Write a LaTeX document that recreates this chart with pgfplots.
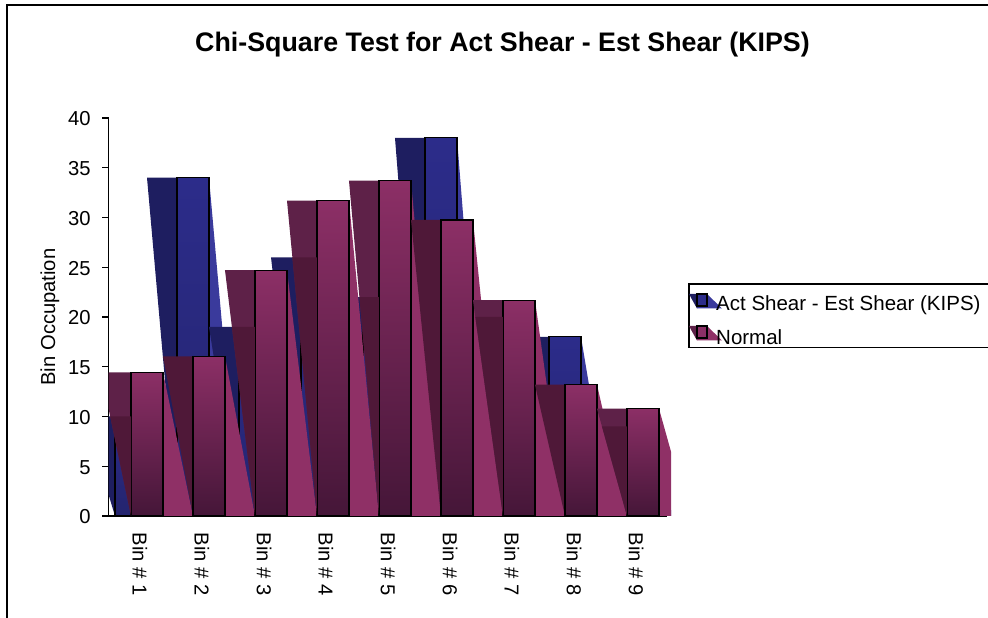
\documentclass[border=0pt]{standalone}
\usepackage{fontspec}
\setmainfont{Liberation Sans}
\usepackage{pgfplots}
\pgfplotsset{compat=1.18}

\definecolor{bluefront}{HTML}{2C2C8A}
\definecolor{bluefrontlo}{HTML}{24246E}
\definecolor{blueside}{HTML}{1E1E60}
\definecolor{bluewedge}{HTML}{3A3A9C}
\definecolor{pinktop}{HTML}{8C2F66}
\definecolor{pinkbot}{HTML}{451638}
\definecolor{pinkside}{HTML}{5E2148}
\definecolor{pinksidelo}{HTML}{4F1838}
\definecolor{pinkwedge}{HTML}{8F3066}

% #1 bin, #2 value, #3 x shift, #4 side colour, #5 front top, #6 front bottom, #7 wedge
\newcommand{\solidbar}[7]{%
  \pgfmathsetmacro{\xL}{#1+#3-0.621}
  \pgfmathsetmacro{\xM}{#1+#3-0.137}
  \pgfmathsetmacro{\xR}{#1+#3+0.379}
  \pgfmathsetmacro{\xW}{#1+#3+0.863}
  \addplot[fill=#7,draw=none,forget plot] coordinates {(\xR,#2) (\xW,0) (\xR,0)} --cycle;
  \addplot[fill=#4,draw=none,forget plot] coordinates {(\xL,#2) (\xM,#2) (\xM,0)} --cycle;
  \addplot[top color=#5,bottom color=#6,draw=black,line width=1.1pt,forget plot]
    coordinates {(\xM,0) (\xM,#2) (\xR,#2) (\xR,0)} --cycle;
  \addplot[black,line width=2pt,forget plot] coordinates {(\xR,#2) (\xR,0)};
}
% darker lower part of the side panel, below the level of the blue bar behind it
\newcommand{\sidelevel}[3]{%
  \pgfmathsetmacro{\xM}{#1-0.137}
  \pgfmathsetmacro{\xC}{#1-0.137-0.484*#3/#2}
  \addplot[fill=pinksidelo,draw=none,forget plot] coordinates {(\xC,#3) (\xM,#3) (\xM,0)} --cycle;
}

\begin{document}
\begin{tikzpicture}[x=1pt,y=1pt]
\useasboundingbox (0,0) rectangle (988,618);
\fontsize{20.2}{24}\selectfont
\begin{axis}[
    at={(108.5pt,102pt)},
    scale only axis,
    width=562.5pt, height=398pt,
    xmin=0.5, xmax=9.573,
    ymin=0, ymax=40,
    axis x line*=bottom, axis y line*=left,
    axis line style={line width=1.6pt,-},
    x axis line style={shorten >=4pt},
    xtick={1,...,9},
    xticklabels={Bin \# 1,Bin \# 2,Bin \# 3,Bin \# 4,Bin \# 5,Bin \# 6,Bin \# 7,Bin \# 8,Bin \# 9},
    x tick label style={rotate=-90,anchor=west,xshift=4pt,yshift=0.5pt,font=\fontsize{20.2}{24}\selectfont},
    major x tick style={draw=none},
    ytick={0,5,...,40},
    y tick label style={xshift=-5pt,yshift=-1pt,font=\fontsize{20.2}{24}\selectfont},
    /pgf/number format/assume math mode=true,
    tick style={black,line width=1.2pt},
    major tick length=6pt,
    tick align=outside,
    ylabel={Bin Occupation},
    ylabel style={yshift=-5pt,font=\fontsize{20.2}{24}\selectfont},
    clip=true,
]
% Act Shear - Est Shear (KIPS)
\solidbar{1}{10}{-0.258}{blueside}{bluefront}{bluefrontlo}{bluewedge}
\solidbar{2}{34}{-0.258}{blueside}{bluefront}{bluefrontlo}{bluewedge}
\solidbar{3}{19}{-0.258}{blueside}{bluefront}{bluefrontlo}{bluewedge}
\solidbar{4}{26}{-0.258}{blueside}{bluefront}{bluefrontlo}{bluewedge}
\solidbar{5}{22}{-0.258}{blueside}{bluefront}{bluefrontlo}{bluewedge}
\solidbar{6}{38}{-0.258}{blueside}{bluefront}{bluefrontlo}{bluewedge}
\solidbar{7}{20}{-0.258}{blueside}{bluefront}{bluefrontlo}{bluewedge}
\solidbar{8}{18}{-0.258}{blueside}{bluefront}{bluefrontlo}{bluewedge}
\solidbar{9}{9}{-0.258}{blueside}{bluefront}{bluefrontlo}{bluewedge}
% Normal
\solidbar{1}{14.44}{0}{pinkside}{pinktop}{pinkbot}{pinkwedge}
\sidelevel{1}{14.44}{10}
\solidbar{2}{16.05}{0}{pinksidelo}{pinktop}{pinkbot}{pinkwedge}
\solidbar{3}{24.7}{0}{pinkside}{pinktop}{pinkbot}{pinkwedge}
\sidelevel{3}{24.7}{19}
\solidbar{4}{31.7}{0}{pinkside}{pinktop}{pinkbot}{pinkwedge}
\sidelevel{4}{31.7}{26}
\solidbar{5}{33.7}{0}{pinkside}{pinktop}{pinkbot}{pinkwedge}
\sidelevel{5}{33.7}{22}
\solidbar{6}{29.75}{0}{pinksidelo}{pinktop}{pinkbot}{pinkwedge}
\solidbar{7}{21.7}{0}{pinkside}{pinktop}{pinkbot}{pinkwedge}
\sidelevel{7}{21.7}{20}
\solidbar{8}{13.2}{0}{pinksidelo}{pinktop}{pinkbot}{pinkwedge}
\solidbar{9}{10.8}{0}{pinkside}{pinktop}{pinkbot}{pinkwedge}
\sidelevel{9}{10.8}{9}
\end{axis}
\node[font=\fontsize{26.8}{30}\selectfont\bfseries] at (502.5,573) {Chi-Square Test for Act Shear - Est Shear (KIPS)};
% legend box, running off the right edge like the original
\draw[line width=1.6pt] (1000,334) -- (689,334) -- (689,270.5) -- (1000,270.5);
\fill[blueside] (689,324) -- (707,324) -- (697,309.5) -- cycle;
\fill[bluewedge] (707,324) -- (722,309.5) -- (697,309.5) -- cycle;
\draw[line width=1.3pt,fill=bluefront] (697,312) rectangle (707,324);
\fill[pinkside] (689,292) -- (707,292) -- (697,277.5) -- cycle;
\fill[pinkwedge] (707,292) -- (722,277.5) -- (697,277.5) -- cycle;
\draw[line width=1.3pt,fill=pinktop] (697,280) rectangle (707,292);
\node[anchor=west,inner sep=0pt,font=\fontsize{20.5}{24}\selectfont] at (716,313) {Act Shear - Est Shear (KIPS)};
\node[anchor=west,inner sep=0pt,font=\fontsize{20.5}{24}\selectfont] at (716,281) {Normal};
% outer chart frame
\draw[line width=2pt] (7,0) -- (7,612.5) -- (1000,612.5);
\end{tikzpicture}
\end{document}
